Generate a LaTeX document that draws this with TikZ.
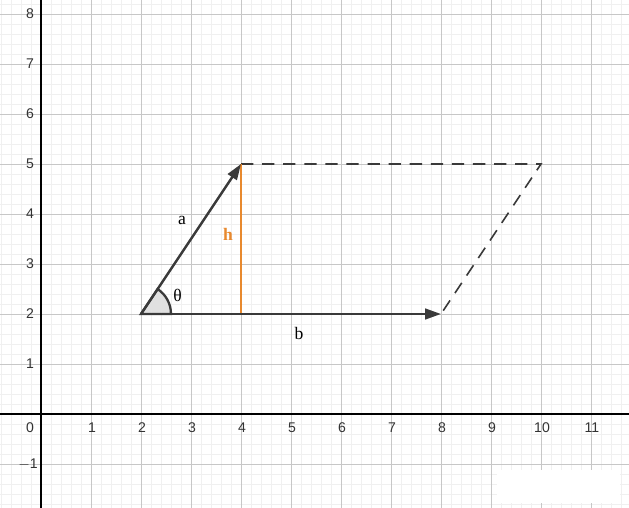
\documentclass[tikz,border=0pt]{standalone}
\usepackage{fontspec}
\setmainfont{Liberation Serif}
\newfontfamily\ticksfont{Liberation Sans}
\usetikzlibrary{arrows.meta}
\definecolor{vecgray}{HTML}{3A3A3A}
\definecolor{horange}{HTML}{E8892E}
\tikzset{
  minorgrid/.style={draw=black!6, line width=0.45pt},
  majorgrid/.style={draw=black!22, line width=0.55pt},
  axisline/.style={draw=black, line width=0.85pt},
  vec/.style={draw=vecgray, line width=1.4pt, -{Triangle[length=9pt,width=6pt]}},
  dashline/.style={draw=vecgray, line width=0.9pt, dash pattern=on 7pt off 5pt},
  tick/.style={font=\ticksfont\fontsize{8}{9}\selectfont, text=black!80, inner sep=0pt},
  lbl/.style={font=\fontsize{10}{12}\selectfont, inner sep=0pt}
}
\begin{document}
\begin{tikzpicture}
\useasboundingbox (-0.82,-1.88) rectangle (11.76,8.28);
\fill[white] (-0.82,-1.88) rectangle (11.76,8.28);
\begin{scope}
\clip (-0.82,-1.88) rectangle (11.76,8.28);
\draw[minorgrid] (-1,-2) grid[step=0.2] (12,9);
\draw[majorgrid] (-1,-2) grid[step=1] (12,9);
\end{scope}
% white patch bottom right
\fill[white] (9.12,-1.78) rectangle (11.58,-1.12);
% axes
\draw[axisline] (-0.82,0) -- (11.76,0);
\draw[axisline] (0,-1.88) -- (0,8.28);
% tick labels
\node[tick] (t0) at (-0.22,-0.27) {0};
\foreach \x in {1,...,11} { \node[tick] (tx\x) at (\x+0.02,-0.27) {\x}; }
\foreach \y in {1,...,8} { \node[tick] (ty\y) at (-0.22,\y) {\y}; }
\node[tick] (tym1) at (-0.26,-1) {$-$1};
% points
\coordinate (O) at (2,2);
\coordinate (A) at (4,5);
\coordinate (B) at (8,2);
\coordinate (C) at (10,5);
\coordinate (H) at (4,2);
% angle
\filldraw[fill=black!12, draw=vecgray, line width=1.3pt] (O) -- ++(0:0.6) arc[start angle=0, end angle=56.31, radius=0.6] -- cycle;
% dashed
\draw[dashline] (A) -- (C) -- (B);
% height
\draw[horange, line width=1.5pt] (H) -- (A);
% vectors
\draw[vec] (O) -- (A);
\draw[vec] (O) -- (B);
% labels
\node[lbl] (la) at (2.82,3.88) {a};
\node[lbl, text=horange, font=\bfseries\fontsize{10}{12}\selectfont] (lh) at (3.74,3.6) {h};
\node[lbl] (lt) at (2.73,2.38) {θ};
\node[lbl] (lb) at (5.16,1.62) {b};
\end{tikzpicture}
\end{document}
